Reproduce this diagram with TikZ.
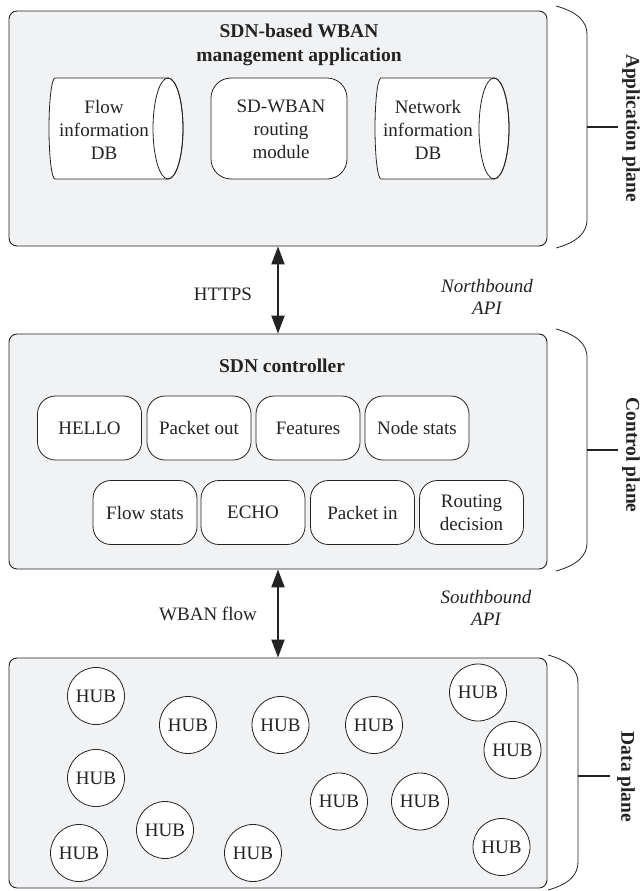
\documentclass[tikz,border=0pt]{standalone}
\usepackage{fontspec}
\setmainfont{Liberation Serif}
\usetikzlibrary{arrows.meta}
\definecolor{panelgray}{RGB}{241,242,244}
\definecolor{ink}{RGB}{35,35,35}

% horizontal database drum: #1 = x of rear end, #2 = x of front face centre
\newcommand\dbdrum[2]{%
  \path[dbshape] (#1,78) -- (#2,78)
    arc[start angle=90, end angle=-90, x radius=15pt, y radius=50.5pt]
    -- (#1,179)
    arc[start angle=270, end angle=90, x radius=6pt, y radius=50.5pt] -- cycle;
  \draw[draw=ink, line width=0.8pt] (#2,128.5) ellipse[x radius=15pt, y radius=50.5pt];
}

\begin{document}
\begin{tikzpicture}[x=1pt, y=-1pt,
  every node/.style={font=\fontsize{19}{23}\selectfont, text=ink},
  panel/.style={draw=ink, fill=panelgray, rounded corners=8pt, line width=0.9pt, inner sep=0pt},
  msgbox/.style={draw=ink, fill=white, rounded corners=18pt, minimum width=104pt,
    minimum height=64pt, inner sep=0pt, align=center, line width=0.8pt},
  hub/.style={draw=ink, fill=white, circle, minimum size=57pt, inner sep=0pt, line width=0.8pt},
  dbshape/.style={draw=ink, fill=white, line width=0.8pt},
  brace/.style={draw=ink, line width=0.8pt},
  tickline/.style={draw=ink, line width=1.6pt},
  planelabel/.style={font=\fontsize{19.5}{23}\selectfont\bfseries, rotate=-90, inner sep=0pt},
  boldtitle/.style={font=\fontsize{19.5}{24}\selectfont\bfseries, align=center},
  apilabel/.style={font=\fontsize{19}{22}\selectfont\itshape, align=center},
  link/.style={draw=ink, line width=2pt,
    {Triangle[length=18pt,width=13pt]}-{Triangle[length=18pt,width=13pt]}},
]
\useasboundingbox (0,0) rectangle (642,891);
\fill[white] (0,0) rectangle (642,891);

% ---------- three planes ----------
\node[panel, minimum width=538pt, minimum height=235pt] (app)  at (278,128.5) {};
\node[panel, minimum width=538pt, minimum height=235pt] (ctrl) at (278,451.5) {};
\node[panel, minimum width=538pt, minimum height=230pt] (data) at (278,773) {};

% ---------- application plane ----------
\node[boldtitle] (apptitle) at (299,45) {SDN-based WBAN\\management application};
\dbdrum{55}{168}
\dbdrum{381}{494}
\node[align=center] (flowdb) at (104,130) {Flow\\information\\DB};
\node[msgbox, minimum width=136pt, minimum height=101pt, rounded corners=20pt] (routing) at (279,128.5) {};
\node[align=center] (routingtxt) at (281,129) {SD-WBAN\\routing\\module};
\node[align=center] (netdb) at (428,130) {Network\\information\\DB};

% ---------- control plane ----------
\node[boldtitle] (ctrltitle) at (282,366) {SDN controller};
\node[msgbox] (hello)    at (89.5,428) {HELLO};
\node[msgbox] (pktout)   at (199,428)  {Packet out};
\node[msgbox] (features) at (308,428)  {Features};
\node[msgbox] (nodestat) at (417,428)  {Node stats};
\node[msgbox] (flowstat) at (145,512.5)   {Flow stats};
\node[msgbox] (echo)     at (253,512.5)   {ECHO};
\node[msgbox] (pktin)    at (362.5,512.5) {Packet in};
\node[msgbox] (routedec) at (471.5,512.5) {Routing\\decision};

% ---------- data plane ----------
\node[hub] (h1)  at (96,696)    {HUB};
\node[hub] (h2)  at (188,725)   {HUB};
\node[hub] (h3)  at (280.5,725) {HUB};
\node[hub] (h4)  at (374,725)   {HUB};
\node[hub] (h5)  at (478,692.5) {HUB};
\node[hub] (h6)  at (512.5,750) {HUB};
\node[hub] (h7)  at (96,778)    {HUB};
\node[hub] (h8)  at (339,801.5) {HUB};
\node[hub] (h9)  at (420,801.5) {HUB};
\node[hub] (h10) at (79,853)    {HUB};
\node[hub] (h11) at (165,830)   {HUB};
\node[hub] (h12) at (253,853)   {HUB};
\node[hub] (h13) at (501.5,847) {HUB};

% ---------- interfaces ----------
\draw[link] (app.south) -- (ctrl.north);
\draw[link] (ctrl.south) -- (data.north);
\node (https) at (223,294) {HTTPS};
\node (wbanflow) at (208,614) {WBAN flow};
\node[apilabel] (north) at (487,297) {Northbound\\API};
\node[apilabel] (south) at (486,608) {Southbound\\API};

% ---------- plane braces ----------
\draw[brace] (556,6) .. controls (578,12) and (587,22) .. (587,34) -- (587,220)
  .. controls (587,232) and (578,242) .. (556,248);
\draw[tickline] (587,127) -- (618,127);
\node[planelabel] (applabel) at (631,128) {Application plane};

\draw[brace] (556,329) .. controls (578,335) and (587,345) .. (587,357) -- (587,543)
  .. controls (587,555) and (578,565) .. (556,571);
\draw[tickline] (587,450) -- (618,450);
\node[planelabel] (ctrllabel) at (631,455) {Control plane};

\draw[brace] (548,655) .. controls (570,661) and (578,671) .. (578,683) -- (578,862)
  .. controls (578,874) and (570,884) .. (548,890);
\draw[tickline] (578,776) -- (610,776);
\node[planelabel] (datalabel) at (626,777) {Data plane};
\end{tikzpicture}
\end{document}
